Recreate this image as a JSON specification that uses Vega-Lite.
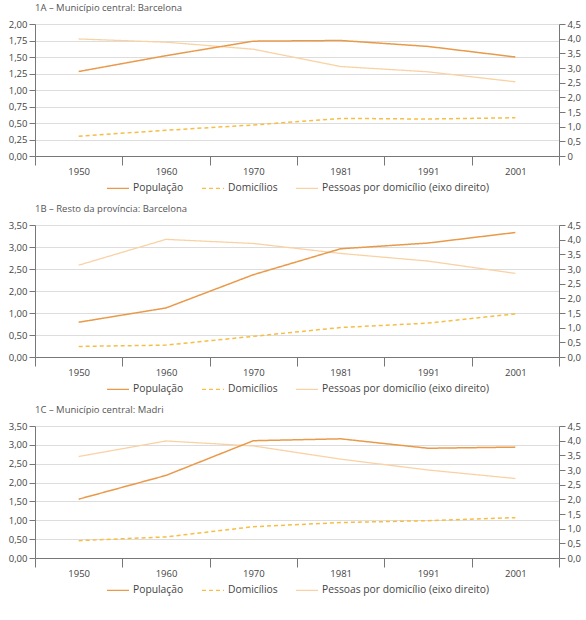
{
  "$schema": "https://vega.github.io/schema/vega-lite/v6.json",
  "padding": {"top": 2, "left": 8, "right": 2, "bottom": 5},
  "spacing": 9,
  "datasets": {
    "d": [
      {"p": "1A", "ano": "1950", "serie": "População", "valor": 1.28},
      {"p": "1A", "ano": "1960", "serie": "População", "valor": 1.52},
      {"p": "1A", "ano": "1970", "serie": "População", "valor": 1.74},
      {"p": "1A", "ano": "1981", "serie": "População", "valor": 1.75},
      {"p": "1A", "ano": "1991", "serie": "População", "valor": 1.66},
      {"p": "1A", "ano": "2001", "serie": "População", "valor": 1.50},
      {"p": "1A", "ano": "1950", "serie": "Domicílios", "valor": 0.30},
      {"p": "1A", "ano": "1960", "serie": "Domicílios", "valor": 0.39},
      {"p": "1A", "ano": "1970", "serie": "Domicílios", "valor": 0.47},
      {"p": "1A", "ano": "1981", "serie": "Domicílios", "valor": 0.57},
      {"p": "1A", "ano": "1991", "serie": "Domicílios", "valor": 0.56},
      {"p": "1A", "ano": "2001", "serie": "Domicílios", "valor": 0.58},
      {"p": "1A", "ano": "1950", "serie": "Pessoas por domicílio (eixo direito)", "valor": 3.99},
      {"p": "1A", "ano": "1960", "serie": "Pessoas por domicílio (eixo direito)", "valor": 3.88},
      {"p": "1A", "ano": "1970", "serie": "Pessoas por domicílio (eixo direito)", "valor": 3.64},
      {"p": "1A", "ano": "1981", "serie": "Pessoas por domicílio (eixo direito)", "valor": 3.05},
      {"p": "1A", "ano": "1991", "serie": "Pessoas por domicílio (eixo direito)", "valor": 2.87},
      {"p": "1A", "ano": "2001", "serie": "Pessoas por domicílio (eixo direito)", "valor": 2.53},
      {"p": "1B", "ano": "1950", "serie": "População", "valor": 0.79},
      {"p": "1B", "ano": "1960", "serie": "População", "valor": 1.23},
      {"p": "1B", "ano": "1970", "serie": "População", "valor": 2.37},
      {"p": "1B", "ano": "1981", "serie": "População", "valor": 2.96},
      {"p": "1B", "ano": "1991", "serie": "População", "valor": 3.09},
      {"p": "1B", "ano": "2001", "serie": "População", "valor": 3.33},
      {"p": "1B", "ano": "1950", "serie": "Domicílios", "valor": 0.24},
      {"p": "1B", "ano": "1960", "serie": "Domicílios", "valor": 0.27},
      {"p": "1B", "ano": "1970", "serie": "Domicílios", "valor": 0.47},
      {"p": "1B", "ano": "1981", "serie": "Domicílios", "valor": 0.67},
      {"p": "1B", "ano": "1991", "serie": "Domicílios", "valor": 0.77},
      {"p": "1B", "ano": "2001", "serie": "Domicílios", "valor": 0.98},
      {"p": "1B", "ano": "1950", "serie": "Pessoas por domicílio (eixo direito)", "valor": 3.13},
      {"p": "1B", "ano": "1960", "serie": "Pessoas por domicílio (eixo direito)", "valor": 4.01},
      {"p": "1B", "ano": "1970", "serie": "Pessoas por domicílio (eixo direito)", "valor": 3.87},
      {"p": "1B", "ano": "1981", "serie": "Pessoas por domicílio (eixo direito)", "valor": 3.53},
      {"p": "1B", "ano": "1991", "serie": "Pessoas por domicílio (eixo direito)", "valor": 3.27},
      {"p": "1B", "ano": "2001", "serie": "Pessoas por domicílio (eixo direito)", "valor": 2.85},
      {"p": "1C", "ano": "1950", "serie": "População", "valor": 1.56},
      {"p": "1C", "ano": "1960", "serie": "População", "valor": 2.19},
      {"p": "1C", "ano": "1970", "serie": "População", "valor": 3.11},
      {"p": "1C", "ano": "1981", "serie": "População", "valor": 3.16},
      {"p": "1C", "ano": "1991", "serie": "População", "valor": 2.91},
      {"p": "1C", "ano": "2001", "serie": "População", "valor": 2.94},
      {"p": "1C", "ano": "1950", "serie": "Domicílios", "valor": 0.46},
      {"p": "1C", "ano": "1960", "serie": "Domicílios", "valor": 0.56},
      {"p": "1C", "ano": "1970", "serie": "Domicílios", "valor": 0.83},
      {"p": "1C", "ano": "1981", "serie": "Domicílios", "valor": 0.94},
      {"p": "1C", "ano": "1991", "serie": "Domicílios", "valor": 0.99},
      {"p": "1C", "ano": "2001", "serie": "Domicílios", "valor": 1.07},
      {"p": "1C", "ano": "1950", "serie": "Pessoas por domicílio (eixo direito)", "valor": 3.46},
      {"p": "1C", "ano": "1960", "serie": "Pessoas por domicílio (eixo direito)", "valor": 3.99},
      {"p": "1C", "ano": "1970", "serie": "Pessoas por domicílio (eixo direito)", "valor": 3.82},
      {"p": "1C", "ano": "1981", "serie": "Pessoas por domicílio (eixo direito)", "valor": 3.37},
      {"p": "1C", "ano": "1991", "serie": "Pessoas por domicílio (eixo direito)", "valor": 3.00},
      {"p": "1C", "ano": "2001", "serie": "Pessoas por domicílio (eixo direito)", "valor": 2.71}
    ]
  },
  "config": {
    "font": "Open Sans",
    "view": {"stroke": null},
    "title": {"anchor": "start", "frame": "group", "fontSize": 9.5, "fontWeight": "normal", "color": "#555555", "offset": 7},
    "axis": {
      "labelFontSize": 9.5, "labelColor": "#444444", "domainColor": "#777777", "tickColor": "#777777",
      "title": null, "gridColor": "#dddddd", "gridWidth": 1
    },
    "legend": {
      "labelFontSize": 10.3, "labelColor": "#444444", "labelLimit": 0, "symbolType": "stroke", "symbolSize": 484,
      "symbolStrokeWidth": 1.4, "columnPadding": 15, "labelOffset": 3, "orient": "none", "legendX": 71, "legendY": 152, "direction": "horizontal"
    }
  },
  "vconcat": [
    {
      "title": "1A – Município central: Barcelona",
      "width": 524, "height": 132,
      "data": {"name": "d"},
      "transform": [{"filter": "datum.p == '1A'"}],
      "encoding": {
        "x": {"field": "ano", "type": "ordinal", "scale": {"type": "band", "paddingInner": 0, "paddingOuter": 0},
              "axis": {"labelAngle": 0, "tickBand": "extent", "tickSize": 9, "labelPadding": 1}},
        "color": {"field": "serie", "type": "nominal", "title": null,
                  "scale": {"domain": ["População", "Domicílios", "Pessoas por domicílio (eixo direito)"], "range": ["#E89A4A", "#F5BE45", "#F9D2A4"]}},
        "strokeDash": {"field": "serie", "type": "nominal", "title": null,
                  "scale": {"domain": ["População", "Domicílios", "Pessoas por domicílio (eixo direito)"], "range": [[1, 0], [4, 3], [1, 0]]}}
      },
      "layer": [
        {
          "transform": [{"filter": "datum.serie == 'Pessoas por domicílio (eixo direito)'"}],
          "mark": {"type": "line", "strokeWidth": 1.3},
          "encoding": {"y": {"field": "valor", "type": "quantitative",
            "scale": {"domain": [0, 4.5], "nice": false, "zero": false},
            "axis": {"orient": "right", "grid": false, "tickSize": 6, "labelPadding": 2, "values": [0, 0.5, 1, 1.5, 2, 2.5, 3, 3.5, 4, 4.5],
                     "labelExpr": "datum.value == 0 ? '0' : replace(format(datum.value, '.1f'), '.', ',')"}}}
        },
        {
          "transform": [{"filter": "datum.serie != 'Pessoas por domicílio (eixo direito)'"}],
          "mark": {"type": "line", "strokeWidth": 1.5},
          "encoding": {"y": {"field": "valor", "type": "quantitative",
            "scale": {"domain": [0, 2], "nice": false, "zero": false},
            "axis": {"orient": "left", "grid": true, "tickSize": 6, "labelPadding": 2, "values": [0, 0.25, 0.5, 0.75, 1, 1.25, 1.5, 1.75, 2],
                     "labelExpr": "replace(format(datum.value, '.2f'), '.', ',')"}}}
        }
      ],
      "resolve": {"scale": {"y": "independent"}}
    },
    {
      "title": "1B – Resto da província: Barcelona",
      "width": 524, "height": 132,
      "data": {"name": "d"},
      "transform": [{"filter": "datum.p == '1B'"}],
      "encoding": {
        "x": {"field": "ano", "type": "ordinal", "scale": {"type": "band", "paddingInner": 0, "paddingOuter": 0},
              "axis": {"labelAngle": 0, "tickBand": "extent", "tickSize": 9, "labelPadding": 1}},
        "color": {"field": "serie", "type": "nominal", "title": null,
                  "scale": {"domain": ["População", "Domicílios", "Pessoas por domicílio (eixo direito)"], "range": ["#E89A4A", "#F5BE45", "#F9D2A4"]}},
        "strokeDash": {"field": "serie", "type": "nominal", "title": null,
                  "scale": {"domain": ["População", "Domicílios", "Pessoas por domicílio (eixo direito)"], "range": [[1, 0], [4, 3], [1, 0]]}}
      },
      "layer": [
        {
          "transform": [{"filter": "datum.serie == 'Pessoas por domicílio (eixo direito)'"}],
          "mark": {"type": "line", "strokeWidth": 1.3},
          "encoding": {"y": {"field": "valor", "type": "quantitative",
            "scale": {"domain": [0, 4.5], "nice": false, "zero": false},
            "axis": {"orient": "right", "grid": false, "tickSize": 6, "labelPadding": 2, "values": [0, 0.5, 1, 1.5, 2, 2.5, 3, 3.5, 4, 4.5],
                     "labelExpr": "replace(format(datum.value, '.1f'), '.', ',')"}}}
        },
        {
          "transform": [{"filter": "datum.serie != 'Pessoas por domicílio (eixo direito)'"}],
          "mark": {"type": "line", "strokeWidth": 1.5},
          "encoding": {"y": {"field": "valor", "type": "quantitative",
            "scale": {"domain": [0, 1, 2, 3.5], "range": [132, 88, 66, 0], "nice": false, "zero": false},
            "axis": {"orient": "left", "grid": true, "tickSize": 6, "labelPadding": 2, "values": [0, 0.5, 1, 2, 2.5, 3, 3.5],
                     "labelExpr": "replace(format(datum.value, '.2f'), '.', ',')"}}}
        }
      ],
      "resolve": {"scale": {"y": "independent"}}
    },
    {
      "title": "1C – Município central: Madri",
      "width": 524, "height": 132,
      "data": {"name": "d"},
      "transform": [{"filter": "datum.p == '1C'"}],
      "encoding": {
        "x": {"field": "ano", "type": "ordinal", "scale": {"type": "band", "paddingInner": 0, "paddingOuter": 0},
              "axis": {"labelAngle": 0, "tickBand": "extent", "tickSize": 9, "labelPadding": 1}},
        "color": {"field": "serie", "type": "nominal", "title": null,
                  "scale": {"domain": ["População", "Domicílios", "Pessoas por domicílio (eixo direito)"], "range": ["#E89A4A", "#F5BE45", "#F9D2A4"]}},
        "strokeDash": {"field": "serie", "type": "nominal", "title": null,
                  "scale": {"domain": ["População", "Domicílios", "Pessoas por domicílio (eixo direito)"], "range": [[1, 0], [4, 3], [1, 0]]}}
      },
      "layer": [
        {
          "transform": [{"filter": "datum.serie == 'Pessoas por domicílio (eixo direito)'"}],
          "mark": {"type": "line", "strokeWidth": 1.3},
          "encoding": {"y": {"field": "valor", "type": "quantitative",
            "scale": {"domain": [0, 4.5], "nice": false, "zero": false},
            "axis": {"orient": "right", "grid": false, "tickSize": 6, "labelPadding": 2, "values": [0, 0.5, 1, 1.5, 2, 2.5, 3, 3.5, 4, 4.5],
                     "labelExpr": "replace(format(datum.value, '.1f'), '.', ',')"}}}
        },
        {
          "transform": [{"filter": "datum.serie != 'Pessoas por domicílio (eixo direito)'"}],
          "mark": {"type": "line", "strokeWidth": 1.5},
          "encoding": {"y": {"field": "valor", "type": "quantitative",
            "scale": {"domain": [0, 3.5], "nice": false, "zero": false},
            "axis": {"orient": "left", "grid": true, "tickSize": 6, "labelPadding": 2, "values": [0, 0.5, 1, 1.5, 2, 2.5, 3, 3.5],
                     "labelExpr": "replace(format(datum.value, '.2f'), '.', ',')"}}}
        }
      ],
      "resolve": {"scale": {"y": "independent"}}
    }
  ],
  "resolve": {"scale": {"color": "independent", "strokeDash": "independent"}, "legend": {"color": "independent", "strokeDash": "independent"}}
}
